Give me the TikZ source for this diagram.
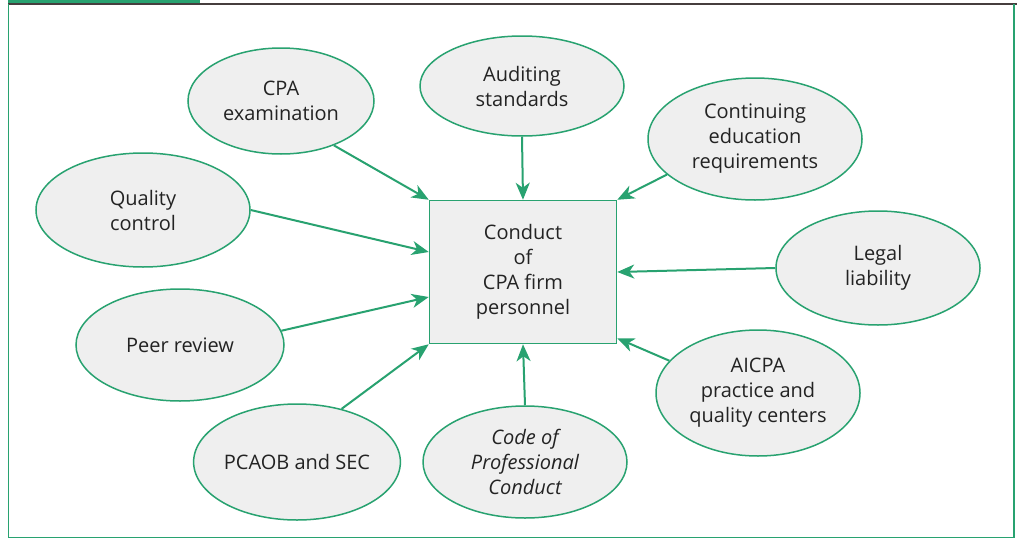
\documentclass[tikz,border=0pt]{standalone}
\usepackage{fontspec}
\setmainfont{Open Sans}
\usetikzlibrary{shapes.geometric,arrows.meta}
\definecolor{frameGreen}{RGB}{40,162,112}
\definecolor{bubbleFill}{RGB}{239,239,239}
\definecolor{rule}{RGB}{70,62,62}
\definecolor{ink}{RGB}{35,35,35}
\tikzset{
  bubble/.style={ellipse, draw=frameGreen, line width=1.5pt, fill=bubbleFill,
    inner sep=0pt, align=center, text=ink, font=\fontsize{20}{25}\selectfont},
  hub/.style={rectangle, draw=frameGreen, line width=1.5pt, fill=bubbleFill,
    minimum width=187, minimum height=143, inner sep=0pt, align=center,
    text=ink, font=\fontsize{20}{25}\selectfont},
  feed/.style={draw=frameGreen, line width=2pt,
    -{Stealth[length=17pt,width=14pt,inset=5pt]}},
}
\begin{document}
\begin{tikzpicture}[x=1pt,y=-1pt]
\useasboundingbox (0,0) rectangle (1017,541);
\fill[white] (0,0) rectangle (1017,541);
% frame
\fill[frameGreen] (8,0) rectangle (200,4);
\draw[rule, line width=1.8pt] (8,4) -- (1017,4);
\draw[frameGreen, line width=1.4pt] (8.5,4) -- (8.5,537.5) -- (1014,537.5) -- (1014,4);

% central box
\node[hub] (box) at (523,272) {Conduct\\of\\CPA firm\\personnel};

% influences
\node[bubble, minimum width=186, minimum height=106] (cpa)  at (281,101) {CPA\\examination};
\node[bubble, minimum width=204, minimum height=100] (aud)  at (522,86)  {Auditing\\standards};
\node[bubble, minimum width=214, minimum height=122] (cont) at (755,139) {Continuing\\education\\requirements};
\node[bubble, minimum width=214, minimum height=114] (qual) at (143,210) {Quality\\control};
\node[bubble, minimum width=204, minimum height=114] (legal) at (878,268) {Legal\\liability};
\node[bubble, minimum width=208, minimum height=112] (peer) at (180,345) {Peer review};
\node[bubble, minimum width=204, minimum height=126] (aicpa) at (758,393) {AICPA\\practice and\\quality centers};
\node[bubble, minimum width=204, minimum height=116] (pcaob) at (297,462) {PCAOB and SEC};
\node[bubble, minimum width=204, minimum height=112] (code) at (525,462) {\itshape Code of\\\itshape Professional\\\itshape Conduct};

% connectors
\draw[feed] (cpa.-40) -- (box.north west);
\draw[feed] (aud.south) -- (box.north);
\draw[feed] (cont.202) -- (box.north east);
\draw[feed] (qual.east) -- ([yshift=20]box.west);
\draw[feed] (legal.west) -- (box.east);
\draw[feed] (peer.8) -- ([yshift=-25]box.west);
\draw[feed] (aicpa.160) -- ([yshift=6]box.south east);
\draw[feed] (pcaob.50) -- (box.south west);
\draw[feed] (code.north) -- (box.south);
\end{tikzpicture}
\end{document}
